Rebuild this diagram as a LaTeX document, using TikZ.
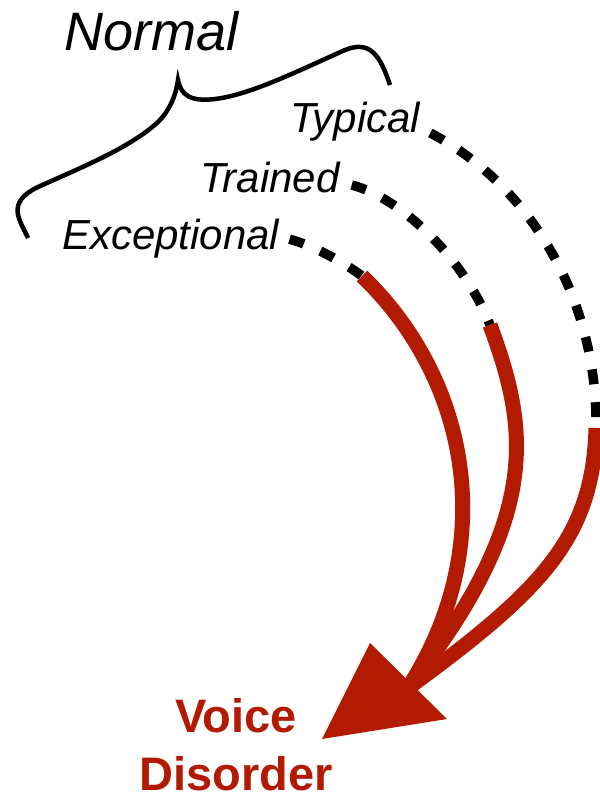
\documentclass[tikz,border=0pt]{standalone}
\usepackage{fontspec}
\setmainfont{Liberation Sans}
\usepackage{tikz}
\usepackage{xcolor}
\usetikzlibrary{calc}
\usetikzlibrary{positioning}
\definecolor{disorderred}{RGB}{178,26,2}

\begin{document}
\begin{tikzpicture}[x=1pt,y=-1pt,
  voicelabel/.style={anchor=base west,inner sep=0pt,font=\fontsize{42}{50}\selectfont\itshape},
  normalpath/.style={black,line width=9.5pt,dash pattern=on 15pt off 18pt},
  disorderpath/.style={disorderred,line width=15pt}]
\useasboundingbox (0,0) rectangle (599,799);

\node[voicelabel,font=\fontsize{54}{60}\selectfont\itshape] (normal) at (64,51) {Normal};
\node[voicelabel] (typical) at (290,133) {Typical};
\node[voicelabel] (trained) at (200,193) {Trained};
\node[voicelabel] (exceptional) at (62,250) {Exceptional};
\node[anchor=south,inner sep=0pt,align=center,text=disorderred,
  font=\fontsize{47}{58}\selectfont\bfseries] (disorder) at (236,791) {Voice\\Disorder};

\draw[line width=4.5pt] (28,238) .. controls (20,220) and (5,203) .. (38,187)
  .. controls (80,168) and (130,148) .. (158,122) .. controls (170,110) and (176,95) .. (178,80)
  .. controls (181,95) and (190,102) .. (215,99) .. controls (250,95) and (300,70) .. (345,50)
  .. controls (370,40) and (380,55) .. (390,85);

\coordinate (exc-red) at (362,276);
\coordinate (trn-red) at (490,325);
\coordinate (typ-red) at (596,428);
\coordinate (head) at (408,688);

\draw[normalpath] ([xshift=10]exceptional.east) .. controls +(22,6) and +(-20,-15) .. (exc-red);
\draw[normalpath] ([shift={(12,-8)}]trained.base east) .. controls +(50,13) and +(-25,-65) .. (trn-red);
\draw[normalpath] ([xshift=10]typical.base east) .. controls +(100,52) and +(2,-128) .. (typ-red);

\draw[disorderpath] (exc-red) .. controls +(108,104) and +(92,-143) .. (head);
\draw[disorderpath] (trn-red) .. controls +(38,103) and +(135,-172) .. (head);
\draw[disorderpath] (typ-red) .. controls +(-3,110) and +(134,-98) .. (head);

\coordinate (head-l) at (370,643);
\coordinate (head-r) at (447,719);
\coordinate (head-tip) at (322,739);
\fill[disorderred] (head-l) -- (head-r) -- (head-tip) -- cycle;
\end{tikzpicture}
\end{document}
